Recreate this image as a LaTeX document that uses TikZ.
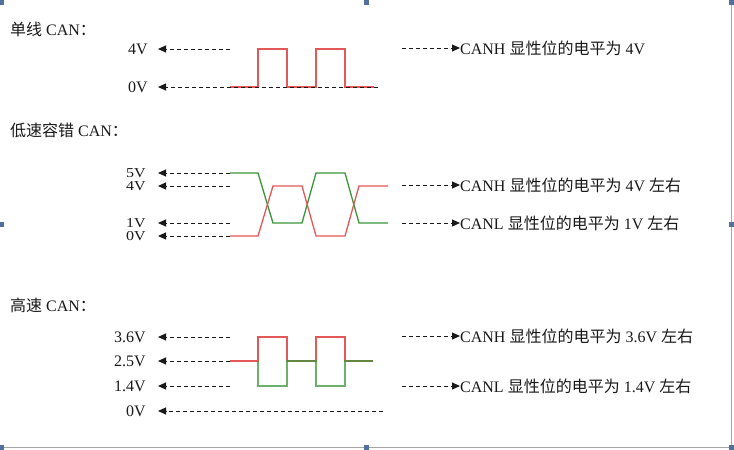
\documentclass[tikz,border=0pt]{standalone}
\usepackage{fontspec}
\setmainfont{Liberation Serif}
\newfontfamily\cjk{Noto Sans CJK SC}
\usetikzlibrary{arrows.meta}
\newcommand{\cn}[1]{{\cjk #1}}
\newcommand{\sq}[1]{\scalebox{1}[0.85]{#1}}
\definecolor{sigred}{RGB}{228,88,88}
\definecolor{siggreen}{RGB}{58,150,58}
\definecolor{handle}{RGB}{80,112,160}
\definecolor{frame}{RGB}{165,165,165}
\begin{document}
\begin{tikzpicture}[x=1pt,y=-1pt,
  txt/.style={font=\fontsize{16}{18}\selectfont, inner sep=0pt, text=black!90},
  ttl/.style={txt, anchor=west},
  lbl/.style={txt, anchor=east},
  note/.style={txt, anchor=west},
  ptr/.style={draw=black!90, line width=1pt, dash pattern=on 4pt off 3pt,
              -{Triangle[length=8pt,width=7pt]}},
  lptr/.style={ptr, shorten >=10pt},
  hsig/.style={draw=sigred, line width=1.3pt, line join=miter},
  lsig/.style={draw=siggreen, line width=1.3pt, line join=miter},
  hnd/.style={fill=handle}
]
\useasboundingbox (0,0) rectangle (734,450);
\fill[white] (0,0) rectangle (734,450);
% frame
\draw[frame, line width=1.6pt] (731.5,4) -- (731.5,447.5) -- (0,447.5);
\fill[hnd] (0,0) rectangle (4,5);
\fill[hnd] (364,0) rectangle (369,5);
\fill[hnd] (729,0) rectangle (734,5);
\fill[hnd] (0,222) rectangle (4,227);
\fill[hnd] (729,222) rectangle (734,227);
\fill[hnd] (0,445) rectangle (4,450);
\fill[hnd] (364,445) rectangle (369,450);
\fill[hnd] (729,445) rectangle (734,450);

% ---------- section 1 ----------
\node[ttl] (title1) at (10,29) {\cn{单线} CAN\cn{：}};
\node[lbl] (a4) at (148,49) {4V};
\node[lbl] (a0) at (148,87) {0V};
\draw[hsig] (230,87) -- (258,87) -- (258,49) -- (287,49) -- (287,87) -- (316,87)
  -- (316,49) -- (345,49) -- (345,87) -- (374,87);
\coordinate (a4e) at (230,49);
\coordinate (a0e) at (378,87);
\draw[lptr] (a4e) -- (a4);
\draw[lptr] (a0e) -- (a0);
\node[note] (n1) at (460,48) {CANH \cn{显性位的电平为} 4V};
\coordinate (n1s) at (402,48);
\draw[ptr] (n1s) -- (n1);

% ---------- section 2 ----------
\node[ttl] (title2) at (10,130) {\cn{低速容错} CAN\cn{：}};
\node[lbl] (b5) at (146,173) {\sq{5V}};
\node[lbl] (b4) at (146,186) {\sq{4V}};
\node[lbl] (b1) at (146,223) {\sq{1V}};
\node[lbl] (b0) at (146,236) {\sq{0V}};
\coordinate (b5e) at (230,173);
\coordinate (b4e) at (230,186);
\coordinate (b1e) at (230,223);
\coordinate (b0e) at (230,236);
\draw[ptr, shorten >=12pt] (b5e) -- (b5);
\draw[ptr, shorten >=12pt] (b4e) -- (b4);
\draw[ptr, shorten >=12pt] (b1e) -- (b1);
\draw[ptr, shorten >=12pt] (b0e) -- (b0);
\draw[lsig] (230,173) -- (258,173) -- (273,223) -- (302,223) -- (316,173) -- (345,173)
  -- (359,223) -- (388,223);
\draw[hsig] (230,236) -- (258,236) -- (273,186) -- (302,186) -- (316,236) -- (345,236)
  -- (359,186) -- (388,186);
\node[note] (n2) at (460,185) {CANH \cn{显性位的电平为} 4V \cn{左右}};
\node[note] (n3) at (460,223) {CANL \cn{显性位的电平为} 1V \cn{左右}};
\coordinate (n2s) at (402,185);
\coordinate (n3s) at (402,223);
\draw[ptr] (n2s) -- (n2);
\draw[ptr] (n3s) -- (n3);

% ---------- section 3 ----------
\node[ttl] (title3) at (10,305) {\cn{高速} CAN\cn{：}};
\node[lbl] (c36) at (146,337) {3.6V};
\node[lbl] (c25) at (146,361) {2.5V};
\node[lbl] (c14) at (146,386) {1.4V};
\node[lbl] (c0) at (146,411) {0V};
\coordinate (c36e) at (230,337);
\coordinate (c25e) at (230,361);
\coordinate (c14e) at (230,386);
\coordinate (c0e) at (383,411);
\draw[ptr, shorten >=12pt] (c36e) -- (c36);
\draw[ptr, shorten >=12pt] (c25e) -- (c25);
\draw[ptr, shorten >=12pt] (c14e) -- (c14);
\draw[ptr, shorten >=12pt] (c0e) -- (c0);
\draw[hsig] (230,361) -- (258,361) -- (258,337) -- (287,337) -- (287,361) -- (316,361)
  -- (316,337) -- (345,337) -- (345,361) -- (373,361);
\draw[lsig, draw opacity=0.75] (258,361) -- (258,386) -- (287,386) -- (287,361) -- (316,361)
  -- (316,386) -- (345,386) -- (345,361) -- (373,361);
\node[note] (n4) at (460,336) {CANH \cn{显性位的电平为} 3.6V \cn{左右}};
\node[note] (n5) at (460,386) {CANL \cn{显性位的电平为} 1.4V \cn{左右}};
\coordinate (n4s) at (402,336);
\coordinate (n5s) at (402,386);
\draw[ptr] (n4s) -- (n4);
\draw[ptr] (n5s) -- (n5);
\end{tikzpicture}
\end{document}
